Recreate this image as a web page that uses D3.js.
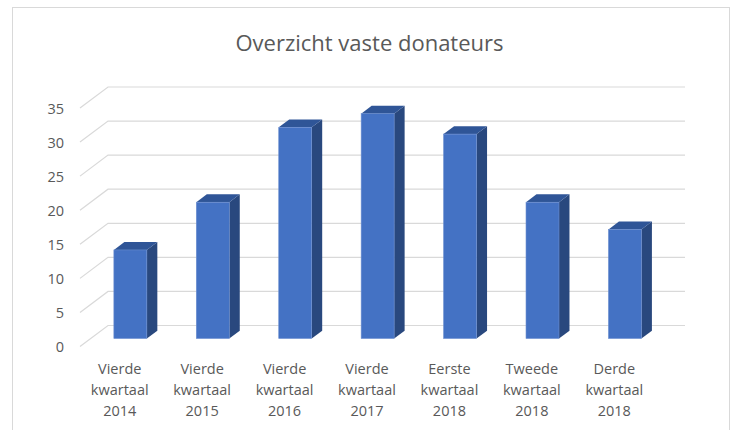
<!DOCTYPE html>
<html>
<head>
<meta charset="utf-8">
<script src="https://cdn.jsdelivr.net/npm/d3@7"></script>
<style>
  body { margin: 0; background: #fff; }
  svg { display: block; }
</style>
</head>
<body>
<svg id="chart" width="733" height="430"></svg>
<script>
// data
const title = "Overzicht vaste donateurs"
const categories = [
  ["Vierde", "kwartaal", "2014"],
  ["Vierde", "kwartaal", "2015"],
  ["Vierde", "kwartaal", "2016"],
  ["Vierde", "kwartaal", "2017"],
  ["Eerste", "kwartaal", "2018"],
  ["Tweede", "kwartaal", "2018"],
  ["Derde", "kwartaal", "2018"]
]
const donateurs = [13, 20, 31, 33, 30, 20, 16]
const yTicks = [0, 5, 10, 15, 20, 25, 30, 35]

const svg = d3.select("#chart")
const fontFamily = "'Open Sans', 'Noto Sans', sans-serif"
const textColor = "#595959"
const gridColor = "#d9d9d9"

// chart border
svg.append("rect")
   .attr("x", 12.5).attr("y", 7.5)
   .attr("width", 717).attr("height", 440)
   .attr("fill", "#fff")
   .attr("stroke", gridColor)

svg.append("text")
   .attr("x", 369.5).attr("y", 51)
   .attr("text-anchor", "middle")
   .style("font-family", fontFamily)
   .style("font-size", "22px")
   .attr("fill", textColor)
   .text(title)

// pseudo 3d: front plane + depth vector
const depthX = 28, depthY = -21
const keys = categories.map((c, i) => i)
const x = d3.scaleBand().domain(keys).range([78.5, 655.5])
            .paddingInner(0.6).paddingOuter(0.3)
const y = d3.scaleLinear().domain([0, 35]).range([346.5, 108])
const step = x.step()
const backLeft = 80 + depthX, backRight = 80 + step * 7 + depthX

// gridlines: diagonal on the side wall, then across the back wall
const grid = svg.append("g")
grid.selectAll("path").data(yTicks).join("path")
    .attr("d", v => `M80,${y(v)} L${backLeft},${y(v) + depthY} L${backRight},${y(v) + depthY}`)
    .attr("fill", "none")
    .attr("stroke", gridColor)
    .attr("stroke-width", 1.2)

// y tick labels
svg.append("g").selectAll("text").data(yTicks).join("text")
   .attr("x", 64).attr("y", v => y(v) + 2)
   .attr("text-anchor", "end")
   .attr("dominant-baseline", "middle")
   .style("font-family", fontFamily)
   .style("font-size", "14.5px")
   .attr("fill", textColor)
   .text(d => d)

// bars sit between depth fractions t0 and t1
const t0 = 0.38, t1 = 0.755
const bdx = depthX * (t1 - t0), bdy = depthY * (t1 - t0)
const bw = x.bandwidth()

const bars = svg.append("g").selectAll("g").data(donateurs).join("g")
  .attr("transform", (d, i) => `translate(${x(i) + depthX * t0},${depthY * t0})`)

// side face
bars.append("path")
    .attr("d", d => `M${bw},${y(d)} L${bw + bdx},${y(d) + bdy} L${bw + bdx},${y(0) + bdy} L${bw},${y(0)} Z`)
    .attr("fill", "#29487e")
// top face
bars.append("path")
    .attr("d", d => `M0,${y(d)} L${bdx},${y(d) + bdy} L${bw + bdx},${y(d) + bdy} L${bw},${y(d)} Z`)
    .attr("fill", "#2f5597")
// front face
bars.append("rect")
    .attr("x", 0).attr("y", d => y(d))
    .attr("width", bw).attr("height", d => y(0) - y(d))
    .attr("fill", "#4472c4")
    .attr("stroke", "#6d8fd0")
    .attr("stroke-width", 0.6)

// category labels, three lines each
const labels = svg.append("g").selectAll("text").data(categories).join("text")
   .attr("text-anchor", "middle")
   .style("font-family", fontFamily)
   .style("font-size", "14.5px")
   .attr("fill", textColor)
   .attr("transform", (d, i) => `translate(${x(i) + bw / 2},374)`)

labels.selectAll("tspan").data(d => d).join("tspan")
   .attr("x", 0)
   .attr("dy", (d, j) => j === 0 ? 0 : 21)
   .text(d => d)
</script>
</body>
</html>
